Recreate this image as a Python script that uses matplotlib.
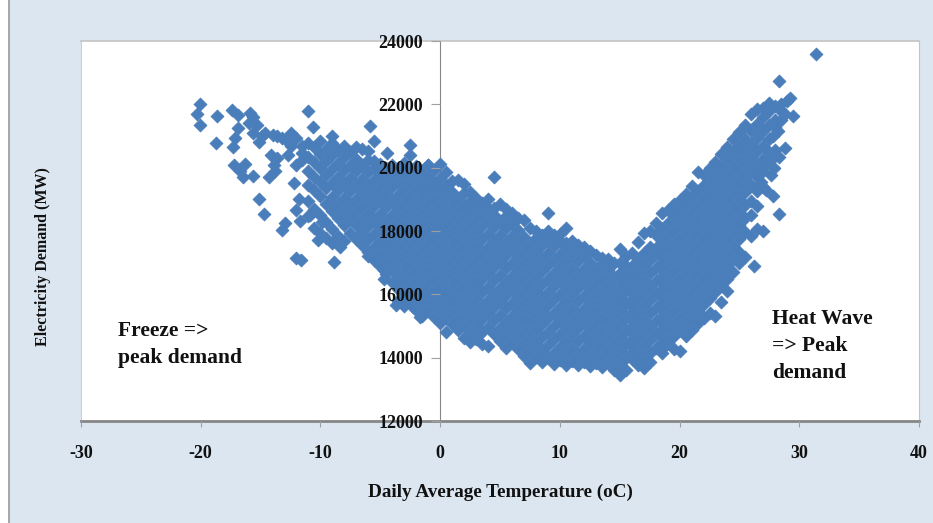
"""Daily electricity demand against daily average temperature."""

import numpy as np
import matplotlib.pyplot as plt
from matplotlib.patches import Rectangle

plt.rcParams['axes.unicode_minus'] = False

# isolated points, read one by one
sparse_temp = [-20.1, -20.3, -20.1, -18.6, -18.7, -17.4, -16.9, -15.9, -15.6, -16.9, -16.0, -15.6,
               -17.1, -17.3, -15.1, -14.6, -13.6, -12.5, -12.0, -11.0, -10.6, -9.0, -5.9, -5.5,
               -4.4, -2.5, -2.5, -1.0, -17.2, -16.3, -16.7, -16.5, -15.6, -14.3, -13.8, -14.1,
               -13.6, -13.9, -12.7, -12.0, -12.2, -15.1, -14.7, -13.0, -13.2, -11.8, -12.0,
               -11.7, -10.9, -9.9, -10.2, -12.0, -11.6, -8.9, -8.4, -6.0, -4.7, -4.7, -3.8,
               -2.3, -3.7, -1.7, -14.0, -13.2, -12.9, -15.3, -14.9, -11.5, -11.5, -11.5, -12.5,
               31.4, 28.3, 29.2, 29.5, 28.8, 28.3, 28.3, 27.8, 26.2, 28.0, 28.0, 28.5, 29.0,
               28.0, 27.3, 27.8, 27.6, 27.2, 26.8, 28.5, 28.5, 28.8, 28.2, 27.6, 28.0, 27.9]
sparse_demand = [22010, 21700, 21350, 21620, 20780, 21820, 21670, 21720, 21600, 21250, 21400, 21100,
                 20930, 20650, 20810, 21100, 21000, 21080, 20950, 21800, 21290, 20990, 21320, 20840,
                 20470, 20720, 20400, 20080, 20090, 20120, 19900, 19700, 19730, 19700, 19880, 20400,
                 20300, 20070, 20400, 20080, 19520, 19000, 18540, 18250, 18030, 19000, 18660,
                 18320, 18500, 18300, 17720, 17140, 17080, 17020, 17500, 17210, 16770, 16470, 16350,
                 15600, 15660, 15280, 21020, 20950, 20880, 21350, 21000, 20700, 20450, 20250, 20700,
                 23590, 22740, 22200, 21620, 20620, 20350, 18540, 19100, 16890, 21950, 21500, 21800, 22100,
                 21300, 20150, 21000, 19770, 19300, 19550, 21500, 22000, 21700, 21150, 20250, 20550, 20000]

# the dense band, by temperature column
band_temp = [-11.0, -10.5, -10.0, -9.5, -9.0, -8.5, -8.0, -7.5, -7.0, -6.5, -6.0, -5.5, -5.0, -4.5, -4.0,
             -3.5, -3.0, -2.5, -2.0, -1.5, -1.0, -0.5, 0.0, 0.5, 1.0, 1.5, 2.0, 2.5, 3.0, 3.5, 4.0,
             4.5, 5.0, 5.5, 6.0, 6.5, 7.0, 7.5, 8.0, 8.5, 9.0, 9.5, 10.0, 10.5, 11.0, 11.5, 12.0,
             12.5, 13.0, 13.5, 14.0, 14.5, 15.0, 15.5, 16.0, 16.5, 17.0, 17.5, 18.0, 18.5, 19.0,
             19.5, 20.0, 20.5, 21.0, 21.5, 22.0, 22.5, 23.0, 23.5, 24.0, 24.5, 25.0, 25.5, 26.0,
             26.5, 27.0, 27.5]
band_demand = [
    [20780, 20350, 19900, 19450, 18950, 18480],
    [20650, 20180, 19720, 19280, 18700, 18100],
    [20850, 20420, 20000, 19550, 19100, 18520, 17950],
    [20600, 20220, 19780, 19350, 18850, 18300, 17780],
    [20780, 20400, 19950, 19520, 19080, 18640, 18050, 17620],
    [20550, 20150, 19720, 19300, 18850, 18400, 17850],
    [20700, 20330, 19920, 19500, 19050, 18620, 18200, 17700],
    [20500, 20100, 19680, 19260, 18830, 18400, 17950],
    [20650, 20280, 19880, 19450, 19020, 18600, 18180, 17760],
    [20600, 20080, 19650, 19230, 18790, 18380, 17980, 17560],
    [20520, 20250, 19850, 19420, 19000, 18560, 18150, 17750, 17350],
    [20200, 19980, 19620, 19200, 18780, 18340, 17920, 17500, 17100],
    [20130, 19800, 19400, 18980, 18540, 18120, 17700, 17280, 16880],
    [20000, 19600, 19180, 18760, 18320, 17900, 17480, 17060, 16650],
    [20100, 19780, 19380, 18950, 18520, 18100, 17680, 17260, 16840, 16400],
    [19950, 19560, 19150, 18730, 18300, 17880, 17460, 17040, 16620, 16180, 15800],
    [20150, 19760, 19340, 18920, 18500, 18080, 17660, 17240, 16820, 16400, 15980, 15620],
    [19920, 19540, 19120, 18700, 18280, 17860, 17440, 17020, 16600, 16180, 15760],
    [20050, 19720, 19320, 18900, 18480, 18060, 17640, 17220, 16800, 16380, 15960, 15520],
    [19880, 19500, 19100, 18680, 18260, 17840, 17420, 17000, 16580, 16160, 15740, 15320],
    [20080, 19700, 19300, 18880, 18460, 18040, 17620, 17200, 16780, 16360, 15940, 15520],
    [19930, 19480, 19080, 18660, 18240, 17820, 17400, 16980, 16560, 16140, 15720, 15300],
    [20120, 19680, 19280, 18860, 18440, 18020, 17600, 17180, 16760, 16340, 15920, 15500, 15100],
    [19850, 19460, 19060, 18640, 18220, 17800, 17380, 16960, 16540, 16120, 15700, 15280, 14820],
    [19580, 19240, 18840, 18420, 18000, 17580, 17160, 16740, 16320, 15900, 15480, 15050],
    [19620, 19020, 18620, 18200, 17780, 17360, 16940, 16520, 16100, 15680, 15260, 14880],
    [19500, 19200, 18800, 18400, 17980, 17560, 17140, 16720, 16300, 15880, 15460, 15040, 14620],
    [19230, 18950, 18600, 18180, 17760, 17340, 16920, 16500, 16080, 15660, 15240, 14820, 14500],
    [19050, 18780, 18380, 17960, 17540, 17120, 16700, 16280, 15860, 15440, 15020, 14600],
    [18900, 18560, 18160, 17740, 17320, 16900, 16480, 16060, 15640, 15220, 14800, 14420],
    [19000, 18740, 18340, 17920, 17500, 17080, 16660, 16240, 15820, 15400, 14980, 14380],
    [19700, 18720, 18520, 18120, 17700, 17280, 16860, 16440, 16020, 15600, 15180, 14760],
    [18850, 18300, 17880, 17460, 17040, 16620, 16200, 15780, 15360, 14940, 14520],
    [18700, 18480, 18080, 17660, 17240, 16820, 16400, 15980, 15560, 15140, 14720, 14300],
    [18560, 18250, 17840, 17420, 17000, 16580, 16160, 15740, 15320, 14900, 14480],
    [18400, 18040, 17620, 17200, 16780, 16360, 15940, 15520, 15100, 14680, 14260],
    [18350, 17820, 17400, 16980, 16560, 16140, 15720, 15300, 14880, 14460, 14040],
    [18100, 17600, 17180, 16760, 16340, 15920, 15500, 15080, 14660, 14240, 13830],
    [18000, 17780, 17380, 16960, 16540, 16120, 15700, 15280, 14860, 14440, 14020],
    [17880, 17560, 17160, 16740, 16320, 15900, 15480, 15060, 14640, 14220, 13850],
    [18560, 18000, 17700, 17300, 16920, 16500, 16080, 15660, 15240, 14820, 14400, 13980],
    [17860, 17520, 17100, 16680, 16260, 15840, 15420, 15000, 14580, 14160, 13800],
    [17920, 17700, 17280, 16860, 16440, 16020, 15600, 15180, 14760, 14340, 13920],
    [18100, 17620, 17480, 17060, 16640, 16220, 15800, 15380, 14960, 14540, 14120, 13780],
    [17700, 17260, 16840, 16420, 16000, 15580, 15160, 14740, 14320, 13900],
    [17560, 17440, 17040, 16620, 16200, 15780, 15360, 14940, 14520, 14100, 13760],
    [17500, 17220, 16800, 16380, 15960, 15540, 15120, 14700, 14280, 13860],
    [17380, 17000, 16580, 16160, 15740, 15320, 14900, 14480, 14060, 13740],
    [17250, 16780, 16360, 15940, 15520, 15100, 14680, 14260, 13840],
    [17150, 16980, 16560, 16140, 15720, 15300, 14880, 14460, 14040, 13700],
    [17120, 16760, 16340, 15920, 15500, 15080, 14660, 14240, 13820],
    [17000, 16540, 16120, 15700, 15280, 14860, 14440, 14020, 13620],
    [17420, 17000, 16660, 16320, 15900, 15480, 15060, 14640, 14220, 13800, 13450],
    [17200, 16880, 16500, 16100, 15680, 15260, 14840, 14420, 14000, 13620],
    [17300, 16900, 16680, 16480, 16270, 16060, 15850, 15640, 15430, 15220, 15010, 14800, 14590, 14380, 14170, 13960],
    [17650, 17100, 16680, 16260, 15840, 15420, 15000, 14580, 14160, 13770],
    [17950, 17300, 16880, 16460, 16040, 15620, 15200, 14780, 14360, 13940, 13680],
    [18000, 17500, 17080, 16660, 16240, 15820, 15400, 14980, 14560, 14140, 13850],
    [18250, 17880, 17470, 17260, 16840, 16420, 16000, 15580, 15160, 14740, 14320],
    [18560, 18060, 17640, 17430, 17220, 17010, 16800, 16590, 16380, 16170, 15960, 15750, 15540, 15330, 15120, 14910, 14700, 14490, 14280, 14150],
    [18650, 18260, 17840, 17420, 17000, 16580, 16160, 15740, 15320, 14900, 14480],
    [18850, 18460, 18040, 17620, 17200, 16780, 16360, 15940, 15520, 15100, 14680, 14260],
    [18980, 18660, 18240, 17820, 17400, 16980, 16560, 16140, 15720, 15300, 14880, 14210],
    [19180, 18860, 18440, 18020, 17600, 17180, 16760, 16340, 15920, 15500, 15080, 14700],
    [19420, 19060, 18640, 18220, 17800, 17380, 16960, 16540, 16120, 15700, 15280, 14860],
    [19860, 19260, 18840, 18420, 18000, 17580, 17160, 16740, 16320, 15900, 15480, 15100],
    [19780, 19460, 19040, 18620, 18200, 17780, 17360, 16940, 16520, 16100, 15680, 15260],
    [19980, 19660, 19240, 18820, 18400, 17980, 17560, 17140, 16720, 16300, 15880, 15420],
    [20180, 19860, 19440, 19020, 18600, 18180, 17760, 17340, 16920, 16500, 16080, 15320],
    [20420, 20060, 19640, 19220, 18800, 18380, 17960, 17540, 17120, 16700, 16280, 15760],
    [20650, 20260, 19840, 19420, 19000, 18580, 18160, 17740, 17320, 16900, 16480, 16100],
    [20900, 20480, 20060, 19640, 19220, 18800, 18380, 17960, 17540, 17120, 16700],
    [21130, 20700, 20280, 19860, 19440, 19020, 18600, 18180, 17760, 17340, 17000],
    [21350, 20920, 20500, 20080, 19660, 19240, 18820, 18400, 17980, 17180],
    [21700, 21150, 20720, 20300, 19880, 19460, 18950, 18500, 17850],
    [21850, 21380, 20950, 20520, 20100, 19700, 19250, 18800, 18050],
    [21900, 21600, 21150, 20700, 20280, 19880, 19400, 18000],
    [22040, 21780, 21350, 20900, 20500],
]

x_ticks = [-30, -20, -10, 0, 10, 20, 30, 40]
y_ticks = [12000, 14000, 16000, 18000, 20000, 22000, 24000]

FONT = 'Liberation Serif'
BLUE = '#4A7EBB'
W, H = 933, 523

fig = plt.figure(figsize=(W / 100, H / 100), dpi=100, facecolor='white')
fig.patches.append(Rectangle((9 / W, -0.01), 1.0, 1.02, transform=fig.transFigure,
                             facecolor='#DCE6F1', edgecolor='#9A9A9A', linewidth=1.2, zorder=-1))

ax = fig.add_axes([81 / W, (H - 421) / H, 838 / W, 380 / H], facecolor='white')

# expand the columns and draw everything in one call
band_x = np.repeat(band_temp, [len(col) for col in band_demand])
band_y = np.concatenate(band_demand)
temps = np.concatenate([sparse_temp, band_x])
demand = np.concatenate([sparse_demand, band_y])
ax.scatter(temps, demand, marker='D', s=42, color=BLUE, edgecolors=BLUE, linewidths=0.7,
           zorder=3, clip_on=False)

ax.set_xlim(-30, 40)
ax.set_ylim(12000, 24000)
ax.set_xticks(x_ticks)
ax.set_yticks(y_ticks)

# y axis crosses at zero, light frame around the plot area
ax.spines['left'].set_position(('data', 0))
ax.spines['left'].set_color('#868686')
ax.spines['bottom'].set_color('#868686')
ax.spines['bottom'].set_linewidth(2)
ax.spines['top'].set_color('#C4C4C4')
ax.spines['top'].set_linewidth(1.2)
ax.spines['right'].set_color('#C4C4C4')
ax.axvline(-30, color='#C4C4C4', lw=1.2, zorder=1)

ax.tick_params(axis='x', length=4.5, width=0.8, color='#A0A0A0', pad=13)
ax.tick_params(axis='y', length=6.5, width=0.8, color='#A0A0A0', pad=6)
for label in ax.get_xticklabels() + ax.get_yticklabels():
    label.set_fontfamily(FONT)
    label.set_fontweight('bold')
    label.set_fontsize(13)
    label.set_color('#111111')
ax.yaxis.set_zorder(5)
ax.xaxis.set_zorder(5)

fig.text(43 / W, 1 - 257 / H, 'Electricity Demand (MW)', rotation=90, ha='center', va='center',
         family=FONT, fontweight='bold', fontsize=11.5, color='#111111')
fig.text(500 / W, 1 - 492 / H, 'Daily Average Temperature (oC)', ha='center', va='center',
         family=FONT, fontweight='bold', fontsize=13.8, color='#111111')

notes = [(118, 331, 'Freeze =>'), (118, 358, 'peak demand'),
         (772, 319, 'Heat Wave'), (772, 346, '=> Peak'), (772, 373, 'demand')]
for px, py, text in notes:
    fig.text(px / W, 1 - py / H, text, ha='left', va='center', family=FONT,
             fontweight='bold', fontsize=15.5, color='#111111')

plt.savefig('out.png', dpi=100)
